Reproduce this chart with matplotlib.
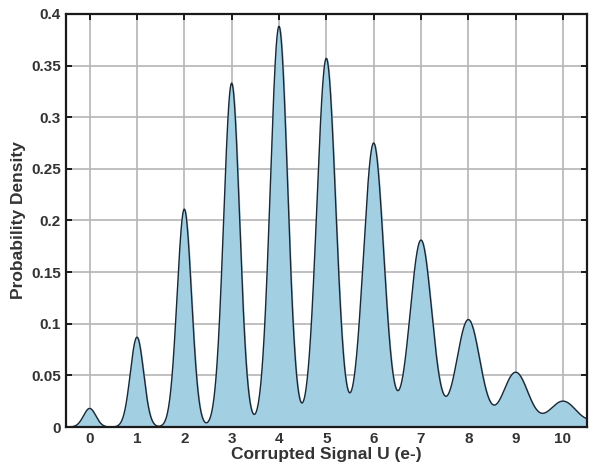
import numpy as np
import matplotlib
matplotlib.use('Agg')
import matplotlib.pyplot as plt

# Pics du mélange
centres = [0, 1, 2, 3, 4, 5, 6, 7, 8, 9, 10, 11]
hauteurs = [0.018, 0.087, 0.211, 0.333, 0.388, 0.357, 0.275, 0.181, 0.104, 0.053, 0.025, 0.011]
largeurs = [0.13, 0.14, 0.152, 0.168, 0.182, 0.198, 0.215, 0.23, 0.247, 0.265, 0.285, 0.30]
x_ticks = list(range(0, 11))
y_ticks = [0, 0.05, 0.1, 0.15, 0.2, 0.25, 0.3, 0.35, 0.4]
y_labels = ['0', '0.05', '0.1', '0.15', '0.2', '0.25', '0.3', '0.35', '0.4']

plt.rcParams['font.family'] = ['Liberation Sans', 'DejaVu Sans']

u = np.linspace(-0.5, 10.5, 2000)
densite = np.zeros_like(u)
for c, h, s in zip(centres, hauteurs, largeurs):
    densite += h * np.exp(-(u - c) ** 2 / (2 * s ** 2))

fig = plt.figure(figsize=(5.89, 4.71), dpi=100)
ax = fig.add_axes([0.112, 0.0934, 0.884, 0.877])

ax.fill_between(u, 0, densite, color='#a3cfe3', zorder=2)
ax.plot(u, densite, color='#1c2733', linewidth=1.0, zorder=3)

ax.set_xlim(-0.5, 10.5)
ax.set_ylim(0, 0.4)
ax.set_xticks(x_ticks)
ax.set_yticks(y_ticks)
ax.set_yticklabels(y_labels)

ax.grid(True, color='#b5b5b5', linewidth=1.2, zorder=0)
ax.set_axisbelow(True)

for sp in ax.spines.values():
    sp.set_linewidth(1.6)
    sp.set_color('#1a1a1a')
    sp.set_zorder(5)

ax.tick_params(direction='in', top=True, right=True, length=4, width=1.4,
               labelsize=11, labelcolor='#333333', color='#1a1a1a')
for lab in ax.get_xticklabels() + ax.get_yticklabels():
    lab.set_fontweight('bold')

ax.set_xlabel('Corrupted Signal U (e-)', fontsize=12.5, fontweight='bold', color='#333333', labelpad=1)
ax.set_ylabel('Probability Density', fontsize=12.5, fontweight='bold', color='#333333', labelpad=4)

fig.savefig('out.png', dpi=100)
